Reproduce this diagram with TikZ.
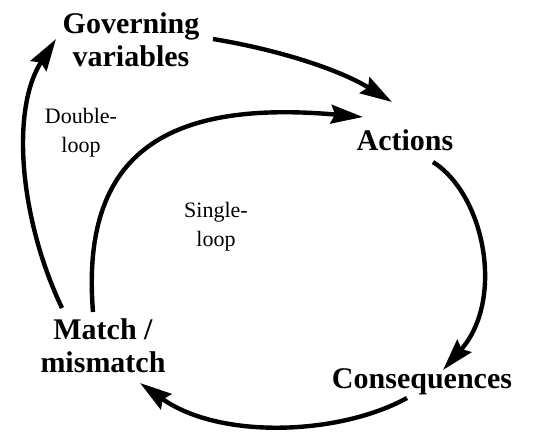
\documentclass[tikz,border=0pt]{standalone}
\usepackage{fontspec}
\setmainfont{Liberation Serif}
\usetikzlibrary{arrows.meta}
\begin{document}
\begin{tikzpicture}[x=0.75pt,y=-0.75pt,
  big/.style={font=\fontsize{22.5}{25}\selectfont\bfseries, align=center, inner sep=0pt},
  small/.style={font=\fontsize{16.5}{22}\selectfont, align=center, inner sep=0pt},
  flow/.style={line width=3.3pt, -{Stealth[length=24pt,width=14pt,inset=3pt]}}]
\useasboundingbox[fill=white] (0,0) rectangle (551,436);
\node[big] (gov) at (131,40) {Governing\\variables};
\node[big] (act) at (405,140) {Actions};
\node[big] (con) at (422,382) {Consequences};
\node[big] (mat) at (103,346) {Match /\\mismatch};
\node[small] (dbl) at (81,133) {Double-\\loop};
\node[small] (sgl) at (216,227) {Single-\\loop};
\draw[flow] ([shift={(82,-1)}]gov.center) .. controls (280,50) and (340,70) .. ([shift={(-13,-38)}]act.center);
\draw[flow] ([shift={(-10,-34)}]mat.center) .. controls (80,150) and (170,100) .. ([shift={(-42,-23)}]act.center);
\draw[flow] ([shift={(-41,-38)}]mat.center) .. controls (20,220) and (10,110) .. ([shift={(-75,-1)}]gov.center);
\draw[flow] ([shift={(28,22)}]act.center) .. controls (485,195) and (505,300) .. ([shift={(21,-12)}]con.center);
\draw[flow] ([shift={(-15,16)}]con.center) .. controls (340,435) and (220,440) .. ([shift={(37,37)}]mat.center);
\end{tikzpicture}
\end{document}
